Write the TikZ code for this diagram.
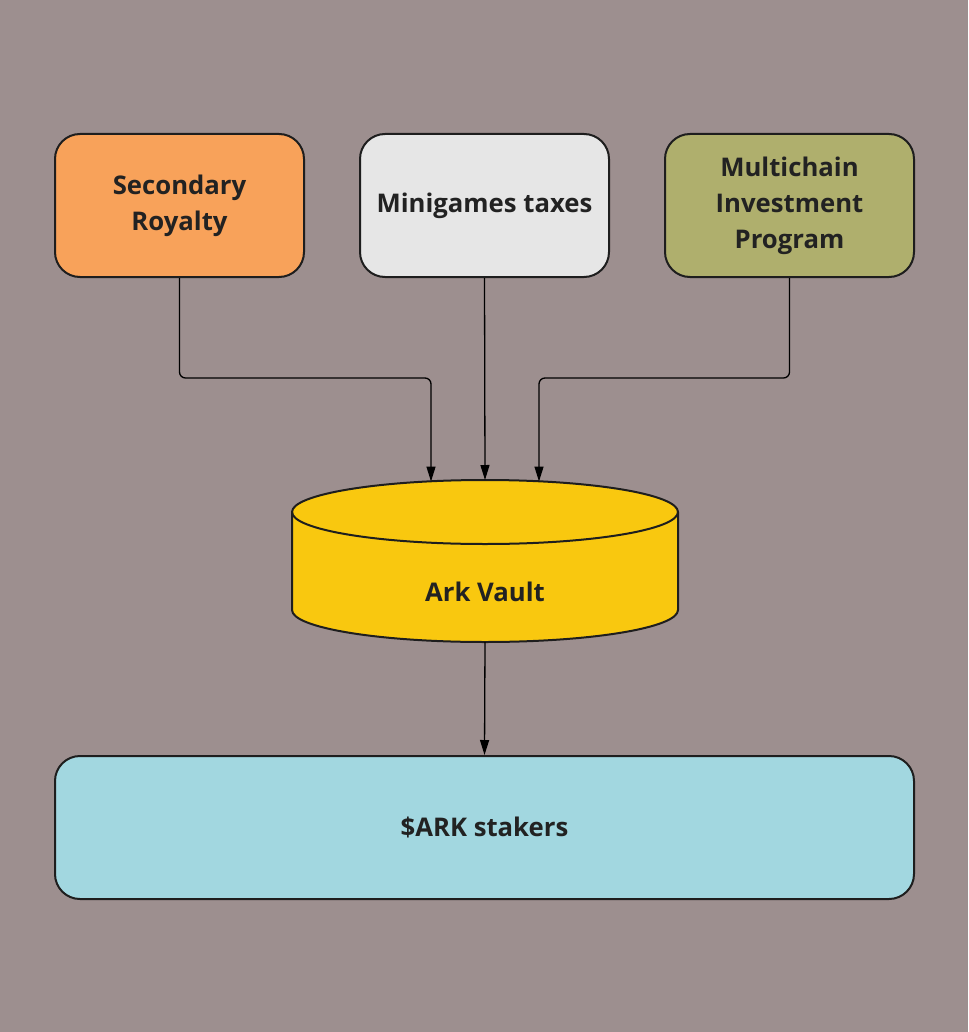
\documentclass[tikz,border=0pt]{standalone}
\usepackage{fontspec}
\setmainfont{Open Sans}
\usetikzlibrary{arrows.meta}
\definecolor{bg}{HTML}{9D8F8F}
\definecolor{cOrange}{HTML}{F8A25A}
\definecolor{cGrey}{HTML}{E6E6E6}
\definecolor{cOlive}{HTML}{AFAF6D}
\definecolor{cYellow}{HTML}{F9C80F}
\definecolor{cCyan}{HTML}{A2D7E0}
\definecolor{txt}{HTML}{222222}
\definecolor{edge}{HTML}{1E1E1E}
\tikzset{
  srcbox/.style={draw=edge, line width=2pt, rounded corners=25pt, minimum width=249pt, minimum height=143pt,
    align=center, text=txt, font=\fontsize{25.7}{36}\selectfont\bfseries, inner sep=0pt},
  conn/.style={draw=black, line width=1.3pt, rounded corners=6pt},
  arr/.style={conn, -{Stealth[length=15pt,width=9pt,inset=0pt]}},
  lbl/.style={text=txt, font=\fontsize{25.7}{36}\selectfont\bfseries, inner sep=0pt}
}
\begin{document}
\begin{tikzpicture}[x=1pt,y=-1pt]
\useasboundingbox (0,0) rectangle (968,1032);
\fill[bg] (0,0) rectangle (968,1032);

\node[srcbox, fill=cOrange] (sec) at (179.5,205.5) {Secondary\\Royalty};
\node[srcbox, fill=cGrey] (mini) at (484.5,205.5) {Minigames taxes};
\node[srcbox, fill=cOlive] (multi) at (789.5,205.5) {Multichain\\Investment\\Program};
\node[srcbox, fill=cCyan, minimum width=859pt] (stk) at (484.5,827.5) {\$ARK stakers};

% cylinder
\filldraw[fill=cYellow, draw=edge, line width=2pt]
  (292,512) -- (292,610) arc[start angle=180, end angle=0, x radius=193, y radius=32]
  -- (678,512) arc[start angle=360, end angle=180, x radius=193, y radius=32] -- cycle;
\draw[edge, line width=2pt] (292,512) arc[start angle=180, end angle=0, x radius=193, y radius=32];
\node[lbl] (vault) at (485,592) {Ark Vault};
\coordinate (vtop) at (485,480);
\coordinate (vin1) at (431,481.5);
\coordinate (vin3) at (539,481.5);
\coordinate (vbot) at (485,642);
\coordinate (j) at (0,378);

\draw[arr] (sec.south) |- (vin1 |- j) -- (vin1);
\draw[arr] (mini.south) -- (vtop);
\draw[arr] (multi.south) |- (vin3 |- j) -- (vin3);
\draw[arr] (vbot) -- (stk.north);
\end{tikzpicture}
\end{document}
